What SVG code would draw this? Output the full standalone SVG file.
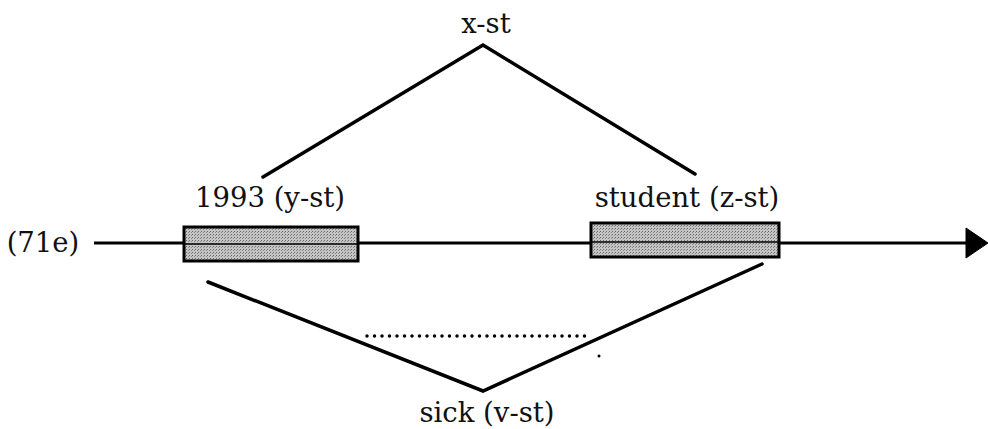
<svg xmlns="http://www.w3.org/2000/svg" width="988" height="429" viewBox="0 0 988 429">
<style>
  .lbl { font-family: "DejaVu Serif", "Liberation Serif", serif; font-size: 27.5px; fill: #111; text-anchor: middle; }
  .ln { stroke: #000; stroke-width: 3.5; fill: none; stroke-linecap: round; stroke-linejoin: miter; }
  .box { fill: url(#stip); stroke: #000; stroke-width: 3; }
</style>
<defs>
  <pattern id="stip" width="3" height="3" patternUnits="userSpaceOnUse">
    <rect width="3" height="3" fill="#c4c4c4"/>
    <rect x="0" y="0" width="1" height="1" fill="#6a6a6a"/>
    <rect x="2" y="1" width="1" height="1" fill="#8a8a8a"/>
  </pattern>
</defs>
<g id="connectors">
  <line x1="94" y1="243" x2="968" y2="243" stroke="#000" stroke-width="2.8"/>
  <polygon points="966,228 988,243 966,258" fill="#000" stroke="#000" stroke-width="1" stroke-linejoin="round"/>
  <polyline class="ln" points="263,177 483,45 695,174"/>
  <polyline class="ln" points="208,282 483,391 762,264"/>
  <line x1="367" y1="336" x2="592" y2="336" stroke="#000" stroke-width="3.5" stroke-linecap="round" stroke-dasharray="0 7.5"/>
  <circle cx="599" cy="356" r="1.5" fill="#000"/>
</g>
<g id="node-71e"><text class="lbl" x="43" y="252">(71e)</text></g>
<g id="node-x"><text class="lbl" x="486" y="33">x-st</text></g>
<g id="node-y">
  <rect class="box" x="184" y="227" width="174" height="34"/>
  <line x1="184" y1="244" x2="358" y2="244" stroke="#000" stroke-width="1.5"/>
  <text class="lbl" x="270" y="207">1993 (y-st)</text>
</g>
<g id="node-z">
  <rect class="box" x="591" y="223" width="188" height="34"/>
  <line x1="591" y1="242" x2="779" y2="242" stroke="#000" stroke-width="1.5"/>
  <text class="lbl" x="687" y="207">student (z-st)</text>
</g>
<g id="node-v"><text class="lbl" x="487" y="422">sick (v-st)</text></g>
</svg>
